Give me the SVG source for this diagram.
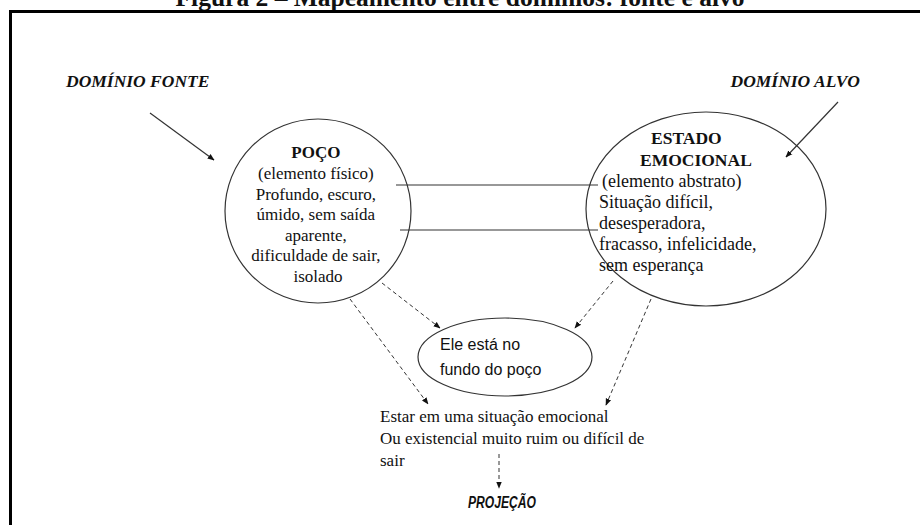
<svg xmlns="http://www.w3.org/2000/svg" width="920" height="525" viewBox="0 0 920 525">
<style>
.serif{font-family:"Liberation Serif","Times New Roman",serif;fill:#111}
.b{font-weight:bold}
.bi{font-weight:bold;font-style:italic}
.sans{font-family:"Liberation Sans",Arial,sans-serif;fill:#111}
.shape{fill:#fff;stroke:#333;stroke-width:1.2}
.solid{stroke:#333;stroke-width:1.2;fill:none}
.dash{stroke:#333;stroke-width:1;fill:none;stroke-dasharray:4 3}
</style>
<defs>
<marker id="ah" viewBox="0 0 10 10" refX="9" refY="5" markerWidth="7" markerHeight="7" orient="auto" markerUnits="userSpaceOnUse">
<path d="M0,1 L10,5 L0,9 z" fill="#111"/>
</marker>
</defs>
<rect width="920" height="525" fill="#fff"/>
<text class="serif b" x="460" y="6" text-anchor="middle" font-size="25.5">Figura 2 – Mapeamento entre domínios: fonte e alvo</text>
<path d="M10.5,525 V11.5 H920" fill="none" stroke="#000" stroke-width="3"/>

<g id="label-fonte">
<text class="serif bi" x="66" y="87" font-size="17.5">DOMÍNIO FONTE</text>
</g>
<g id="label-alvo">
<text class="serif bi" x="860" y="87" font-size="17.5" text-anchor="end">DOMÍNIO ALVO</text>
</g>

<g id="node-poco">
<ellipse class="shape" cx="318" cy="211" rx="93" ry="92"/>
<text class="serif" text-anchor="middle" font-size="17">
<tspan class="b" x="318" y="158">POÇO</tspan>
<tspan x="318" y="179">(elemento físico)</tspan>
<tspan x="318" y="199.5">Profundo, escuro,</tspan>
<tspan x="318" y="220">úmido, sem saída</tspan>
<tspan x="318" y="240.5">aparente,</tspan>
<tspan x="318" y="261">dificuldade de sair,</tspan>
<tspan x="318" y="281.5">isolado</tspan>
</text>
</g>

<g id="node-estado">
<ellipse class="shape" cx="706" cy="209" rx="120" ry="97"/>
<text class="serif" font-size="18">
<tspan class="b" x="651" y="144" font-size="17.5">ESTADO</tspan>
<tspan class="b" x="640" y="166" font-size="17.5">EMOCIONAL</tspan>
<tspan x="602" y="187">(elemento abstrato)</tspan>
<tspan x="599" y="208">Situação difícil,</tspan>
<tspan x="599" y="229">desesperadora,</tspan>
<tspan x="599" y="250">fracasso, infelicidade,</tspan>
<tspan x="599" y="271">sem esperança</tspan>
</text>
</g>

<g id="node-fundo">
<ellipse class="shape" cx="505" cy="357" rx="87" ry="39"/>
<text class="sans" font-size="16">
<tspan x="440" y="350">Ele está no</tspan>
<tspan x="440" y="375">fundo do poço</tspan>
</text>
</g>

<g id="node-situacao">
<text class="serif" font-size="17">
<tspan x="380" y="422">Estar em uma situação emocional</tspan>
<tspan x="380" y="444">Ou existencial muito ruim ou difícil de</tspan>
<tspan x="380" y="466">sair</tspan>
</text>
</g>

<g id="node-projecao">
<text class="sans bi" x="468" y="508" font-size="16" textLength="68" lengthAdjust="spacingAndGlyphs">PROJEÇÃO</text>
</g>

<g id="connectors">
<line class="solid" x1="150" y1="113" x2="214" y2="160" marker-end="url(#ah)"/>
<line class="solid" x1="838" y1="102" x2="786" y2="157" marker-end="url(#ah)"/>
<line class="solid" x1="396" y1="185" x2="598" y2="185"/>
<line class="solid" x1="400" y1="230" x2="598" y2="230"/>
<line class="dash" x1="382" y1="283" x2="440" y2="328" marker-end="url(#ah)"/>
<line class="dash" x1="350" y1="299" x2="428" y2="404" marker-end="url(#ah)"/>
<line class="dash" x1="613" y1="281" x2="575" y2="328" marker-end="url(#ah)"/>
<line class="dash" x1="651" y1="299" x2="606" y2="405" marker-end="url(#ah)"/>
<line class="dash" x1="499" y1="454" x2="499" y2="488" marker-end="url(#ah)"/>
</g>
</svg>
